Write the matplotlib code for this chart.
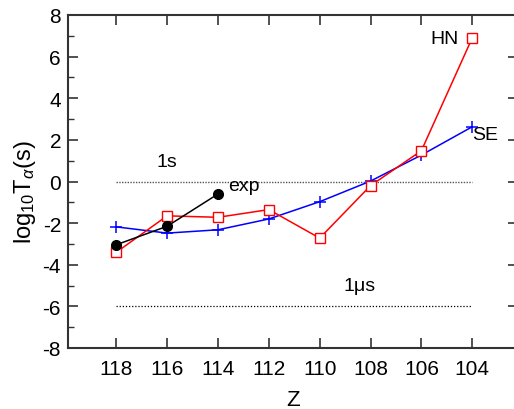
import matplotlib
matplotlib.use("Agg")
import matplotlib.pyplot as plt
from matplotlib.ticker import MultipleLocator

plt.rcParams["font.family"] = ["Liberation Sans", "DejaVu Sans"]
plt.rcParams["mathtext.fontset"] = "custom"
plt.rcParams["mathtext.rm"] = "Liberation Sans"
plt.rcParams["mathtext.it"] = "Liberation Sans:italic"
plt.rcParams["axes.unicode_minus"] = False

# data
z_vals = [118, 116, 114, 112, 110, 108, 106, 104]
hn_vals = [-3.40, -1.65, -1.72, -1.35, -2.72, -0.20, 1.48, 6.90]
se_vals = [-2.18, -2.48, -2.32, -1.80, -0.97, 0.02, 1.27, 2.63]
exp_z = [118, 116, 114]
exp_vals = [-3.04, -2.15, -0.60]
ref_lines = [0, -6]
ref_span = [118, 104]


def draw_ax(ax):
    ax.plot(
        ref_span, [ref_lines[0]] * 2,
        color="#555555", linestyle=(0, (1, 1)), linewidth=1,
    )
    ax.plot(
        ref_span, [ref_lines[1]] * 2,
        color="black", linestyle=(0, (1, 1.5)), linewidth=0.9,
    )

    ax.plot(
        z_vals, se_vals,
        color="blue", marker="+", markersize=8, markeredgewidth=1.1,
        linewidth=1.1,
    )
    ax.plot(
        z_vals, hn_vals,
        color="red", marker="s", markersize=6.5, markerfacecolor="white",
        markeredgewidth=1.0, linewidth=1.1,
    )
    ax.plot(
        exp_z, exp_vals,
        color="black", marker="o", markersize=7, linewidth=1.1,
    )

    ax.text(116, 0.95, "1s", fontsize=14, ha="center", va="center")
    ax.text(113.6, -0.2, "exp", fontsize=14, ha="left", va="center")
    ax.text(105.1, 6.85, "HN", fontsize=14, ha="center", va="center")
    ax.text(104.0, 2.28, "SE", fontsize=14, ha="left", va="center")
    ax.text(108.45, -5.0, "1μs", fontsize=14, ha="center", va="center")

    ax.set_xlim(119.9, 102.2)
    ax.set_ylim(-8, 8)
    ax.set_xticks(z_vals)
    ax.yaxis.set_major_locator(MultipleLocator(2))
    ax.yaxis.set_minor_locator(MultipleLocator(1))

    ax.tick_params(
        axis="both", which="major", direction="in",
        length=7, width=1.2, labelsize=15, color="#333333",
    )
    ax.tick_params(axis="x", top=True, pad=8)
    ax.tick_params(axis="y", right=True, pad=5)
    ax.tick_params(
        axis="y", which="minor", direction="in",
        length=4, width=1.0, left=True, right=False, color="#333333",
    )
    for side in ax.spines.values():
        side.set_linewidth(1.5)
        side.set_color("#333333")

    ax.set_xlabel("Z", fontsize=16, labelpad=8)
    ax.set_ylabel(r"log$_{10}$T$_{\alpha}$(s)", fontsize=17)
    ax.yaxis.set_label_coords(-30 / 450, 0.47)


fig = plt.figure(figsize=(5.14, 4.10), dpi=100)
ax = fig.add_axes([68 / 514, 61 / 410, (518 - 68) / 514, 333 / 410])
draw_ax(ax)
fig.savefig("out.png", dpi=100)
